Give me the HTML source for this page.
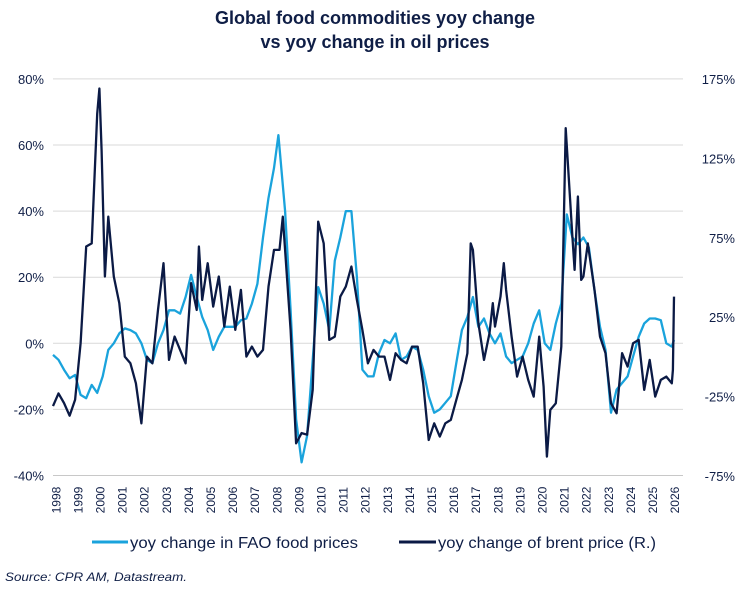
<!DOCTYPE html>
<html><head><meta charset="utf-8"><style>
body{margin:0;background:#fff;}
svg{display:block;font-family:"Liberation Sans",Arial,sans-serif;}
</style></head><body>
<svg id="chart" width="749" height="593" viewBox="0 0 749 593">
<text x="375" y="24" text-anchor="middle" font-size="18" font-weight="bold" fill="#0f1e46">Global food commodities yoy change</text>
<text x="375" y="48" text-anchor="middle" font-size="18" font-weight="bold" fill="#0f1e46">vs yoy change in oil prices</text>
<g id="grid"></g>
<g id="yl"></g>
<g id="yr"></g>
<g id="xa"></g>
<g id="series"></g>
<g>
<line x1="92" y1="542" x2="128" y2="542" stroke="#1aa3dc" stroke-width="3"/>
<text x="130" y="548" font-size="16" fill="#0f1e46" textLength="228" lengthAdjust="spacingAndGlyphs">yoy change in FAO food prices</text>
<line x1="399" y1="542" x2="436" y2="542" stroke="#0b1a45" stroke-width="3"/>
<text x="438" y="548" font-size="16" fill="#0f1e46" textLength="218" lengthAdjust="spacingAndGlyphs">yoy change of brent price (R.)</text>
</g>
<text x="5" y="581" font-size="12" font-style="italic" fill="#0f1e46" textLength="182" lengthAdjust="spacingAndGlyphs">Source: CPR AM, Datastream.</text>
</svg>
<script>
const leftTicks=[80,60,40,20,0,-20,-40];
const rightTicks=[175,125,75,25,-25,-75];
const years=[1998,1999,2000,2001,2002,2003,2004,2005,2006,2007,2008,2009,2010,2011,2012,2013,2014,2015,2016,2017,2018,2019,2020,2021,2022,2023,2024,2025,2026];
const foodT=[1998,1998.25,1998.5,1998.75,1999,1999.25,1999.5,1999.75,2000,2000.25,2000.5,2000.75,2001,2001.25,2001.5,2001.75,2002,2002.25,2002.5,2002.75,2003,2003.25,2003.5,2003.75,2004,2004.25,2004.5,2004.75,2005,2005.25,2005.5,2005.75,2006,2006.25,2006.5,2006.75,2007,2007.25,2007.5,2007.75,2008,2008.2,2008.5,2008.75,2009,2009.25,2009.5,2009.75,2010,2010.25,2010.5,2010.75,2011,2011.25,2011.5,2011.75,2012,2012.25,2012.5,2012.75,2013,2013.25,2013.5,2013.75,2014,2014.25,2014.5,2014.75,2015,2015.25,2015.5,2015.75,2016,2016.25,2016.5,2016.75,2017,2017.25,2017.5,2017.75,2018,2018.25,2018.5,2018.75,2019,2019.25,2019.5,2019.75,2020,2020.25,2020.5,2020.75,2021,2021.25,2021.5,2021.75,2022,2022.25,2022.5,2022.75,2023,2023.25,2023.5,2023.75,2024,2024.25,2024.5,2024.75,2025,2025.25,2025.5,2025.75,2026,2026.1];
const foodV=[-3.5,-5,-8,-10.6,-9.6,-15.6,-16.6,-12.6,-15,-10,-2,0,3,4.5,4,3,0,-5,-6,0,4,10,10,9,14,20.7,14,8,4,-2,2,5,5,5,7,7.5,12,18,32,44,53,63,40,10,-23,-36,-28,-5,17,12,4,25,32,40,40,20,-8,-10,-10,-3,1,0,3,-5,-4,-1,-2,-8,-16,-21,-20,-18,-16,-6,4,8,14,5,7.5,3,0,3,-4,-6,-5,-4,0,6,10,0,-2,6,12,39,32,30,32,29,16,5,-2,-21,-14,-12,-10,-4,2,6,7.5,7.5,7,0,-1,1];
const oilT=[1998,1998.25,1998.5,1998.75,1999,1999.25,1999.5,1999.75,2000,2000.1,2000.2,2000.35,2000.5,2000.75,2001,2001.25,2001.5,2001.75,2002,2002.25,2002.5,2002.75,2003,2003.25,2003.5,2003.75,2004,2004.25,2004.5,2004.6,2004.75,2005,2005.25,2005.5,2005.75,2006,2006.25,2006.5,2006.75,2007,2007.25,2007.5,2007.75,2008,2008.25,2008.4,2008.75,2009,2009.25,2009.5,2009.75,2010,2010.25,2010.5,2010.75,2011,2011.25,2011.5,2011.75,2012,2012.25,2012.5,2012.75,2013,2013.25,2013.5,2013.75,2014,2014.25,2014.5,2014.75,2015,2015.25,2015.5,2015.75,2016,2016.25,2016.5,2016.75,2016.9,2017,2017.25,2017.5,2017.75,2017.9,2018,2018.25,2018.4,2018.5,2018.75,2019,2019.25,2019.5,2019.75,2020,2020.2,2020.35,2020.5,2020.75,2021,2021.2,2021.5,2021.6,2021.75,2021.9,2022,2022.2,2022.5,2022.75,2023,2023.25,2023.5,2023.75,2024,2024.25,2024.5,2024.75,2025,2025.25,2025.5,2025.75,2026,2026.05,2026.1];
const oilV=[-31,-23,-29,-37,-27,8.6,69.5,71.5,153,169,130,50.6,88.3,50.6,33.8,0.2,-4,-16.6,-41.8,0.2,-4,29.6,59,-1.9,12.8,4.4,-4,46.4,29.6,69.5,35.9,59,31.7,50.6,19.1,44.3,17,42.2,0.2,6.5,0.2,4.4,44.3,67.4,67.4,88.3,17,-54.4,-48,-49,-20.8,85.2,71.5,10.7,12.8,38,44.3,56.9,35.9,17,-4,4.4,0.2,0.2,-14.5,2.3,-1.9,-4,6.5,6.5,-16.6,-52.3,-41.8,-50.2,-41.8,-39.7,-27.1,-14.5,2.3,71.5,67.4,21.2,-1.9,14.9,33.8,19.1,38,59,42.2,12.8,-12.4,0.2,-14.5,-25,12.8,-18.7,-62.8,-33.4,-29.2,6.5,144,75.7,54.8,101,48.5,50.6,71.5,42.2,12.8,2.3,-29.2,-35.5,2.3,-6.1,8.6,10.7,-20.8,-1.9,-25,-14.5,-12.4,-16.6,-8.2,38];

const NS='http://www.w3.org/2000/svg';
const X0=53,PX=22.1,X1=683;
const xS=t=>X0+(t-1998)*PX;
const yL=v=>343.3-v*66.1/20;
const yR=v=>79-(v-175)*397/250;
function mk(tag,attrs,parent){const e=document.createElementNS(NS,tag);for(const k in attrs)e.setAttribute(k,attrs[k]);parent.appendChild(e);return e;}
const grid=document.getElementById('grid'),yl=document.getElementById('yl'),yr=document.getElementById('yr'),xa=document.getElementById('xa'),ser=document.getElementById('series');
leftTicks.forEach(v=>{
  const l=mk('line',{x1:X0,x2:X1,y1:yL(v),y2:yL(v),stroke:v===-40?'#c8c8c8':'#d9d9d9','stroke-width':1},grid);
  
  
  const t=mk('text',{x:44,y:yL(v)+5,'text-anchor':'end','font-size':13,fill:'#0f1e46'},yl);
  
  
  t.textContent=v+'%';
});
rightTicks.forEach(v=>{
  const t=mk('text',{x:735,y:yR(v)+5,'text-anchor':'end','font-size':13,fill:'#0f1e46'},yr);
  
  
  t.textContent=v+'%';
});
years.forEach(y=>{
  const cx=xS(y+0.15),cy=500;
  const t=mk('text',{x:cx,y:cy,'text-anchor':'middle','font-size':12,fill:'#0f1e46',transform:`rotate(-90 ${cx} ${cy}) translate(0 4)`},xa);
  
  
  t.textContent=y;
});
function path(T,V,yf,color,name){
  const d=T.map((t,i)=>(i?'L':'M')+xS(t).toFixed(1)+' '+yf(V[i]).toFixed(1)).join('');
  const p=mk('path',{d:d,fill:'none',stroke:color,'stroke-width':2.3,'stroke-linejoin':'round'},ser);
  
  
}
path(foodT,foodV,yL,'#1aa3dc','food-price-line');
path(oilT,oilV,yR,'#0b1a45','brent-price-line');
</script>
</body></html>
